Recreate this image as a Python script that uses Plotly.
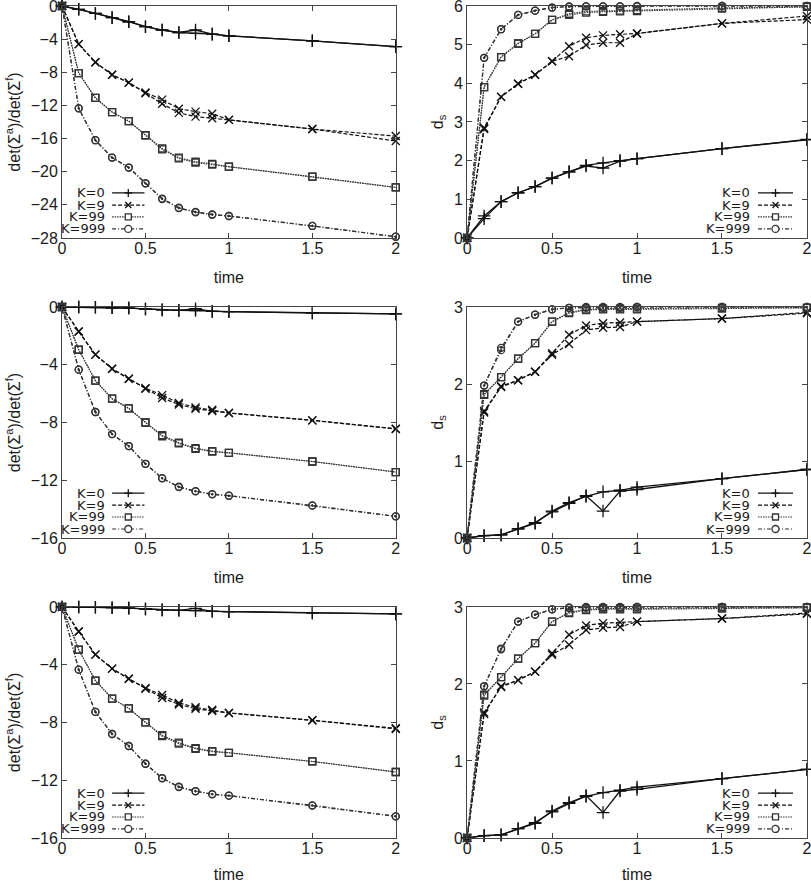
import plotly.graph_objects as go

# time points
t = [0, 0.1, 0.2, 0.3, 0.4, 0.5, 0.6, 0.7, 0.8, 0.9, 1, 1.5, 2]

k_labels = ['K=0', 'K=9', 'K=99', 'K=999']

# row 1, left: det ratio (two runs per K)
det1_k0_a = [0, -0.4, -0.9, -1.4, -1.9, -2.5, -2.9, -3.2, -3.3, -3.4, -3.6, -4.2, -4.9]
det1_k0_b = [0, -0.4, -0.9, -1.4, -1.9, -2.5, -2.9, -3.2, -2.9, -3.4, -3.6, -4.2, -4.9]
det1_k9_a = [0, -4.6, -6.8, -8.3, -9.25, -10.45, -11.3, -12.4, -12.75, -13.0, -13.75, -14.85, -15.7]
det1_k9_b = [0, -4.6, -6.8, -8.3, -9.25, -10.55, -11.8, -12.9, -13.35, -13.55, -13.75, -14.85, -16.3]
det1_k99_a = [0, -8.1, -11.1, -12.8, -13.9, -15.6, -17.2, -18.3, -18.8, -19.05, -19.4, -20.6, -21.9]
det1_k99_b = [0, -8.1, -11.1, -12.8, -13.9, -15.6, -17.3, -18.4, -18.9, -19.15, -19.4, -20.6, -21.9]
det1_k999_a = [0, -12.35, -16.2, -18.3, -19.5, -21.4, -23.25, -24.35, -24.85, -25.15, -25.35, -26.55, -27.85]
det1_k999_b = [0, -12.35, -16.2, -18.3, -19.5, -21.4, -23.3, -24.4, -24.9, -25.2, -25.35, -26.55, -27.85]

# row 1, right: d_s
ds1_k0_a = [0, 0.5, 0.94, 1.17, 1.33, 1.55, 1.71, 1.88, 1.94, 2.0, 2.05, 2.31, 2.54]
ds1_k0_b = [0, 0.57, 0.94, 1.17, 1.33, 1.55, 1.71, 1.86, 1.81, 1.99, 2.05, 2.31, 2.55]
ds1_k9_a = [0, 2.82, 3.65, 3.99, 4.22, 4.57, 4.96, 5.18, 5.24, 5.27, 5.29, 5.55, 5.74]
ds1_k9_b = [0, 2.85, 3.65, 3.99, 4.22, 4.57, 4.7, 4.99, 5.05, 5.05, 5.29, 5.55, 5.65]
ds1_k99_a = [0, 3.9, 4.68, 5.03, 5.28, 5.64, 5.77, 5.83, 5.85, 5.86, 5.87, 5.93, 5.98]
ds1_k99_b = [0, 3.9, 4.68, 5.03, 5.28, 5.64, 5.8, 5.86, 5.87, 5.88, 5.89, 5.95, 5.98]
ds1_k999_a = [0, 4.66, 5.4, 5.77, 5.88, 5.96, 5.99, 5.99, 5.99, 5.99, 5.99, 6.0, 6.0]
ds1_k999_b = [0, 4.66, 5.4, 5.77, 5.88, 5.96, 5.98, 5.99, 5.99, 5.99, 6.0, 6.0, 6.0]

# row 2, left
det2_k0_a = [0, 0, -0.02, -0.05, -0.07, -0.14, -0.2, -0.23, -0.24, -0.3, -0.32, -0.41, -0.48]
det2_k0_b = [0, 0, -0.02, -0.05, -0.07, -0.14, -0.2, -0.23, -0.12, -0.3, -0.32, -0.41, -0.48]
det2_k9_a = [0, -1.7, -3.3, -4.27, -4.97, -5.62, -6.1, -6.65, -6.95, -7.12, -7.34, -7.85, -8.43]
det2_k9_b = [0, -1.7, -3.3, -4.27, -4.97, -5.66, -6.3, -6.75, -7.05, -7.2, -7.34, -7.85, -8.45]
det2_k99_a = [0, -2.96, -5.1, -6.35, -7.02, -8.0, -8.88, -9.4, -9.78, -9.98, -10.1, -10.7, -11.43]
det2_k99_b = [0, -2.96, -5.1, -6.35, -7.02, -8.0, -8.95, -9.45, -9.82, -10.02, -10.1, -10.7, -11.43]
det2_k999_a = [0, -4.34, -7.27, -8.8, -9.63, -10.86, -11.85, -12.45, -12.75, -12.96, -13.07, -13.74, -14.5]
det2_k999_b = [0, -4.34, -7.27, -8.8, -9.63, -10.86, -11.87, -12.47, -12.77, -12.98, -13.07, -13.76, -14.5]

# row 2, right
ds2_k0_a = [0, 0.03, 0.04, 0.12, 0.19, 0.35, 0.46, 0.54, 0.6, 0.62, 0.66, 0.77, 0.89]
ds2_k0_b = [0, 0.03, 0.04, 0.12, 0.2, 0.34, 0.45, 0.55, 0.35, 0.61, 0.63, 0.77, 0.89]
ds2_k9_a = [0, 1.65, 1.96, 2.05, 2.16, 2.4, 2.64, 2.76, 2.79, 2.8, 2.81, 2.85, 2.93]
ds2_k9_b = [0, 1.63, 1.97, 2.05, 2.16, 2.38, 2.52, 2.7, 2.73, 2.74, 2.81, 2.85, 2.92]
ds2_k99_a = [0, 1.86, 2.09, 2.33, 2.53, 2.81, 2.92, 2.96, 2.97, 2.97, 2.97, 2.98, 2.99]
ds2_k99_b = [0, 1.87, 2.09, 2.33, 2.53, 2.81, 2.93, 2.97, 2.98, 2.98, 2.98, 2.99, 2.99]
ds2_k999_a = [0, 1.98, 2.47, 2.81, 2.9, 2.97, 2.99, 3.0, 3.0, 3.0, 3.0, 3.0, 3.0]
ds2_k999_b = [0, 1.98, 2.44, 2.81, 2.9, 2.97, 2.99, 2.99, 2.99, 2.99, 3.0, 3.0, 3.0]

# row 3, left
det3_k0_a = [0, 0, -0.02, -0.05, -0.08, -0.14, -0.2, -0.23, -0.25, -0.3, -0.32, -0.41, -0.48]
det3_k0_b = [0, 0, -0.02, -0.05, -0.08, -0.14, -0.2, -0.23, -0.1, -0.3, -0.32, -0.41, -0.48]
det3_k9_a = [0, -1.7, -3.3, -4.27, -4.97, -5.62, -6.1, -6.65, -6.95, -7.12, -7.34, -7.85, -8.4]
det3_k9_b = [0, -1.7, -3.3, -4.27, -4.97, -5.66, -6.3, -6.75, -7.05, -7.2, -7.34, -7.85, -8.45]
det3_k99_a = [0, -2.96, -5.1, -6.35, -7.02, -8.0, -8.88, -9.4, -9.78, -9.98, -10.1, -10.7, -11.43]
det3_k99_b = [0, -2.96, -5.1, -6.35, -7.02, -8.0, -8.95, -9.47, -9.82, -10.02, -10.1, -10.7, -11.43]
det3_k999_a = [0, -4.34, -7.27, -8.8, -9.63, -10.86, -11.85, -12.45, -12.75, -12.96, -13.07, -13.74, -14.5]
det3_k999_b = [0, -4.34, -7.27, -8.8, -9.63, -10.86, -11.87, -12.47, -12.77, -12.98, -13.07, -13.76, -14.5]

# row 3, right
ds3_k0_a = [0, 0.03, 0.04, 0.12, 0.19, 0.35, 0.46, 0.54, 0.59, 0.62, 0.66, 0.77, 0.89]
ds3_k0_b = [0, 0.03, 0.04, 0.12, 0.2, 0.34, 0.45, 0.55, 0.33, 0.61, 0.63, 0.77, 0.89]
ds3_k9_a = [0, 1.63, 1.96, 2.05, 2.16, 2.4, 2.64, 2.76, 2.79, 2.8, 2.81, 2.85, 2.91]
ds3_k9_b = [0, 1.61, 1.97, 2.05, 2.16, 2.38, 2.51, 2.7, 2.73, 2.74, 2.81, 2.85, 2.92]
ds3_k99_a = [0, 1.85, 2.09, 2.33, 2.53, 2.81, 2.92, 2.96, 2.97, 2.97, 2.97, 2.98, 2.99]
ds3_k99_b = [0, 1.86, 2.09, 2.33, 2.53, 2.81, 2.93, 2.97, 2.98, 2.98, 2.98, 2.99, 2.99]
ds3_k999_a = [0, 1.97, 2.46, 2.81, 2.9, 2.97, 2.99, 3.0, 3.0, 3.0, 3.0, 3.0, 3.0]
ds3_k999_b = [0, 1.97, 2.45, 2.81, 2.9, 2.97, 2.99, 2.99, 2.99, 2.99, 3.0, 3.0, 3.0]

# gnuplot-like styles per K
styles = [
    dict(symbol='cross-thin', size=9, dash='solid', color='#111111', width=1.3),
    dict(symbol='x-thin', size=8, dash='4px,2px', color='#111111', width=1.2),
    dict(symbol='square-open', size=7, dash='1.5px,1px', color='#333333', width=1.1),
    dict(symbol='circle-open-dot', size=7, dash='4px,2px,1px,2px', color='#333333', width=1.2),
]

panels = [
    ('x', 'y', [(det1_k0_a, det1_k0_b), (det1_k9_a, det1_k9_b), (det1_k99_a, det1_k99_b), (det1_k999_a, det1_k999_b)]),
    ('x2', 'y2', [(ds1_k0_a, ds1_k0_b), (ds1_k9_a, ds1_k9_b), (ds1_k99_a, ds1_k99_b), (ds1_k999_a, ds1_k999_b)]),
    ('x3', 'y3', [(det2_k0_a, det2_k0_b), (det2_k9_a, det2_k9_b), (det2_k99_a, det2_k99_b), (det2_k999_a, det2_k999_b)]),
    ('x4', 'y4', [(ds2_k0_a, ds2_k0_b), (ds2_k9_a, ds2_k9_b), (ds2_k99_a, ds2_k99_b), (ds2_k999_a, ds2_k999_b)]),
    ('x5', 'y5', [(det3_k0_a, det3_k0_b), (det3_k9_a, det3_k9_b), (det3_k99_a, det3_k99_b), (det3_k999_a, det3_k999_b)]),
    ('x6', 'y6', [(ds3_k0_a, ds3_k0_b), (ds3_k9_a, ds3_k9_b), (ds3_k99_a, ds3_k99_b), (ds3_k999_a, ds3_k999_b)]),
]

data = []
for xa, ya, curves in panels:
    for st, (ya_vals, yb_vals) in zip(styles, curves):
        for vals in (ya_vals, yb_vals):
            data.append(go.Scatter(
                x=t, y=vals, xaxis=xa, yaxis=ya, mode='lines+markers',
                showlegend=False, cliponaxis=False,
                line=dict(color=st['color'], width=st['width'], dash=st['dash']),
                marker=dict(symbol=st['symbol'], size=st['size'], color=st['color'],
                            line=dict(color=st['color'], width=1.3)),
            ))

font = dict(family='Liberation Sans, Arial, sans-serif', size=16, color='#1a1a1a')
x_dom = [[0.0765, 0.488], [0.576, 0.995]]
y_dom = [[0.7305, 0.9932], [0.3907, 0.6523], [0.051, 0.3126]]
y_ranges = [[-28, 0], [0, 6], [-16, 0], [0, 3], [-16, 0], [0, 3]]
y_dticks = [4, 1, 4, 1, 4, 1]
det_title = 'det(Σ<sup>a</sup>)/det(Σ<sup>f</sup>)'
ds_title = 'd<sub>s</sub>'

layout = go.Layout(width=811, height=883, margin=dict(l=0, r=0, t=0, b=0),
                   paper_bgcolor='white', plot_bgcolor='white', font=font, showlegend=False)

axis_common = dict(showline=True, linecolor='#444444', linewidth=1, mirror='ticks',
                   ticks='inside', ticklen=5, tickcolor='#444444', showgrid=False,
                   zeroline=False, automargin=False, tickfont=font,
                   ticklabeloverflow='allow')

for i in range(6):
    row, col = divmod(i, 2)
    n = '' if i == 0 else str(i + 1)
    layout['xaxis' + n] = dict(axis_common, domain=x_dom[col], anchor='y' + n, range=[0, 2],
                               tickvals=[0, 0.5, 1, 1.5, 2], ticktext=['0', '0.5', '1', '1.5', '2'],
                               ticklabelstandoff=-4,
                               title=dict(text='time', font=font, standoff=15))
    layout['yaxis' + n] = dict(axis_common, domain=y_dom[row], anchor='x' + n, range=y_ranges[i],
                               dtick=y_dticks[i],
                               title=dict(text=det_title if col == 0 else ds_title, font=font,
                                          standoff=6))

# gnuplot-style key: label on the left, sample on the right
key_rows = [0.194, 0.142, 0.091, 0.039]
key_pos = [(0.135, 0.15, 0.247), (0.838, 0.856, 0.959)]
marker_paths = [
    dict(type='path', path='M-4,0 H4 M0,-4 V4'),
    dict(type='path', path='M-3,-3 L3,3 M-3,3 L3,-3'),
    dict(type='rect', x0=-3, x1=3, y0=-3, y1=3),
    dict(type='circle', x0=-3.5, x1=3.5, y0=-3.5, y1=3.5),
]
shapes = []
annotations = []
for i in range(6):
    col = i % 2
    n = '' if i == 0 else str(i + 1)
    xr, yr = 'x' + n + ' domain', 'y' + n + ' domain'
    tx, lx0, lx1 = key_pos[col]
    for k in range(4):
        st = styles[k]
        yy = key_rows[k]
        annotations.append(dict(text=k_labels[k], xref=xr, yref=yr, x=tx, y=yy,
                                xanchor='right', yanchor='middle', showarrow=False,
                                font=dict(family='DejaVu Sans, sans-serif', size=13,
                                          color='#1a1a1a')))
        shapes.append(dict(type='line', xref=xr, yref=yr, x0=lx0, x1=lx1, y0=yy, y1=yy,
                           line=dict(color=st['color'], width=st['width'], dash=st['dash'])))
        mk = dict(marker_paths[k], xref=xr, yref=yr, xsizemode='pixel', ysizemode='pixel',
                  xanchor=(lx0 + lx1) / 2, yanchor=yy,
                  line=dict(color=st['color'], width=1.3), fillcolor='white')
        shapes.append(mk)

layout['shapes'] = shapes
layout['annotations'] = annotations

fig = go.Figure(data=data, layout=layout)
# drop the default page margin so the figure sits at the window's top-left corner
fig.write_html('out.html', config={'displayModeBar': False},
               post_script="document.body.style.margin='0';")
